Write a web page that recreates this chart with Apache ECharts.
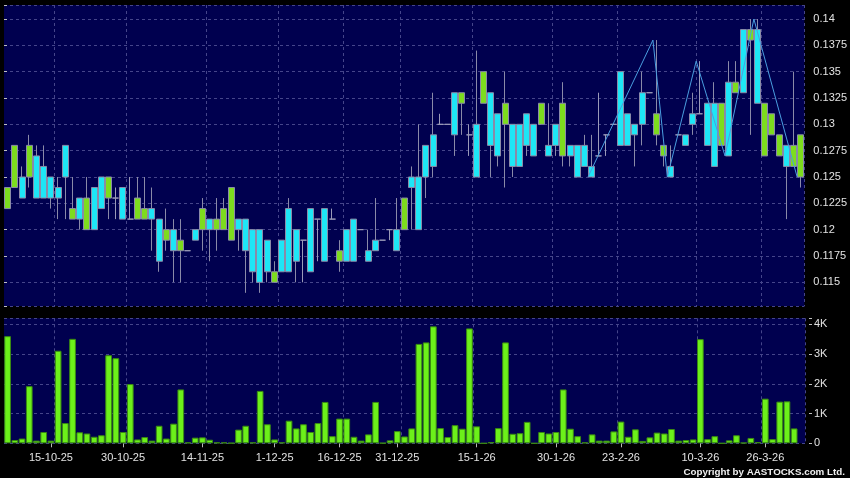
<!DOCTYPE html>
<html>
<head>
<meta charset="utf-8">
<script src="https://cdn.jsdelivr.net/npm/echarts@6/dist/echarts.min.js"></script>
<style>
html,body{margin:0;padding:0;background:#000;}
#chart{width:850px;height:478px;}
</style>
</head>
<body>
<div id="chart"></div>
<script>
// ---- data ----
const openP  = [0.124,0.128,0.123,0.128,0.123,0.123,0.123,0.123,0.125,0.122,0.121,0.123,0.120,0.122,0.125,0.123,0.121,0.121,0.123,0.122,
                0.121,0.117,0.120,0.118,0.119,0.118,0.119,0.122,0.120,0.121,0.122,0.124,0.120,0.118,0.116,0.115,0.116,0.116,0.116,0.116,
                0.117,0.119,0.116,0.121,0.117,0.121,0.118,0.117,0.117,0.120,0.117,0.118,0.119,0.120,0.118,0.123,0.124,0.120,0.125,0.126,
                0.130,0.130,0.129,0.133,0.129,0.125,0.135,0.128,0.127,0.132,0.126,0.126,0.128,0.127,0.132,0.127,0.128,0.132,0.127,0.125,
                0.126,0.125,0.127,0.129,0.130,0.128,0.128,0.129,0.130,0.133,0.131,0.128,0.125,0.129,0.128,0.130,0.131,0.128,0.126,0.132,
                0.127,0.134,0.133,0.139,0.132,0.132,0.131,0.129,0.126,0.128,0.129];
const closeP = [0.122,0.124,0.125,0.125,0.127,0.126,0.125,0.124,0.128,0.121,0.123,0.120,0.124,0.125,0.123,0.123,0.124,0.121,0.121,0.121,
                0.122,0.121,0.119,0.120,0.118,0.118,0.120,0.120,0.121,0.120,0.120,0.119,0.121,0.121,0.120,0.120,0.119,0.115,0.119,0.122,
                0.120,0.119,0.122,0.121,0.122,0.121,0.117,0.120,0.121,0.120,0.118,0.119,0.119,0.120,0.120,0.120,0.125,0.125,0.128,0.129,
                0.130,0.130,0.133,0.132,0.129,0.130,0.132,0.133,0.131,0.130,0.130,0.130,0.131,0.130,0.130,0.128,0.130,0.127,0.128,0.128,
                0.128,0.126,0.127,0.129,0.130,0.135,0.131,0.130,0.133,0.133,0.129,0.127,0.126,0.129,0.129,0.131,0.131,0.132,0.132,0.128,
                0.134,0.133,0.139,0.138,0.139,0.127,0.129,0.127,0.128,0.126,0.125];
const lowP   = [0.122,0.124,0.123,0.124,0.123,0.123,0.122,0.121,0.121,0.121,0.120,0.120,0.120,0.122,0.121,0.121,0.121,0.121,0.121,0.121,
                0.118,0.116,0.118,0.115,0.115,0.118,0.119,0.118,0.117,0.118,0.120,0.119,0.118,0.114,0.115,0.114,0.115,0.115,0.116,0.116,
                0.115,0.115,0.116,0.117,0.117,0.121,0.116,0.117,0.117,0.120,0.117,0.118,0.119,0.119,0.118,0.120,0.120,0.120,0.123,0.125,
                0.130,0.130,0.127,0.129,0.127,0.125,0.132,0.125,0.126,0.124,0.125,0.126,0.127,0.127,0.130,0.127,0.127,0.126,0.126,0.125,
                0.126,0.125,0.127,0.127,0.130,0.128,0.128,0.126,0.128,0.133,0.128,0.126,0.125,0.129,0.128,0.129,0.131,0.128,0.126,0.128,
                0.127,0.133,0.133,0.129,0.132,0.127,0.129,0.127,0.121,0.126,0.124];
const highP  = [0.124,0.128,0.126,0.129,0.128,0.128,0.125,0.125,0.128,0.125,0.123,0.125,0.124,0.125,0.125,0.124,0.124,0.125,0.125,0.125,
                0.124,0.121,0.122,0.121,0.121,0.118,0.120,0.123,0.121,0.123,0.123,0.124,0.121,0.121,0.120,0.120,0.119,0.117,0.119,0.123,
                0.120,0.119,0.122,0.121,0.122,0.122,0.119,0.120,0.121,0.120,0.120,0.123,0.119,0.120,0.123,0.123,0.126,0.130,0.128,0.133,
                0.131,0.130,0.133,0.133,0.130,0.137,0.135,0.133,0.131,0.135,0.130,0.130,0.131,0.130,0.132,0.132,0.130,0.134,0.128,0.128,
                0.129,0.129,0.133,0.129,0.130,0.135,0.131,0.130,0.135,0.133,0.138,0.128,0.128,0.129,0.129,0.133,0.136,0.132,0.134,0.132,
                0.136,0.136,0.139,0.140,0.140,0.132,0.131,0.129,0.128,0.135,0.129];
// volume in thousands
const volumeK = [3.6,0.11,0.16,1.92,0.09,0.38,0.09,3.11,0.68,3.51,0.37,0.33,0.22,0.27,2.96,2.86,0.38,1.99,0.13,0.21,
                 0.09,0.59,0.16,0.66,1.81,0.03,0.19,0.2,0.12,0.03,0.03,0.01,0.46,0.59,0.03,1.76,0.64,0.13,0.03,0.76,
                 0.5,0.64,0.38,0.68,1.39,0.24,0.83,0.83,0.22,0.09,0.3,1.39,0.01,0.1,0.41,0.23,0.5,3.34,3.39,3.93,
                 0.51,0.21,0.61,0.49,3.86,0.57,0,0.04,0.51,3.39,0.32,0.34,0.72,0,0.38,0.33,0.38,1.81,0.49,0.24,
                 0.03,0.3,0.09,0.09,0.4,0.73,0.22,0.47,0.08,0.2,0.36,0.33,0.48,0.09,0.11,0.13,3.5,0.14,0.24,0,
                 0.1,0.27,0.02,0.18,0.04,1.5,0.14,1.4,1.41,0.5,null];
// overlay line (position in trading-day slots, price)
const lineSlot  = [81, 90, 92, 96, 100, 104, 110];
const linePrice = [0.125, 0.138, 0.125, 0.136, 0.127, 0.140, 0.125];
// date tick labels and their bar index
const tickLabels = ['15-10-25','30-10-25','14-11-25','1-12-25','16-12-25','31-12-25','15-1-26','30-1-26','23-2-26','10-3-26','26-3-26'];
const tickIndex  = [6, 16, 27, 37, 46, 54, 65, 76, 85, 96, 105];
const gridLineIndex = [7, 17, 28, 38, 47, 55, 65, 76, 85, 96, 105];

// ---- build ----
const categories = openP.map((_, i) => String(i));
const candleData = openP.map((o, i) => [o, closeP[i], lowP[i], highP[i]]);
const lineData = lineSlot.map((s, i) => [s, linePrice[i]]);

const GRID_COLOR = '#45458a';
const TEXT_COLOR = '#e2e2e2';
const FONT = 'Liberation Sans';

const priceFmt = v => {
  const k = Math.round(v / 0.0025);
  if (Math.abs(v - k * 0.0025) > 1e-7) return '';
  return String(+v.toFixed(4));
};
const volFmt = v => {
  if (Math.abs(v - Math.round(v)) > 1e-6) return '';
  return v === 0 ? '0' : Math.round(v) + 'K';
};

const chart = echarts.init(document.getElementById('chart'), null, {renderer: 'canvas'});
chart.setOption({
  backgroundColor: '#000000',
  animation: false,
  grid: [
    {left: 4, right: 45, top: 5, height: 301, show: true, backgroundColor: '#00004f', borderWidth: 0},
    {left: 4, right: 45, top: 318.3, height: 125, show: true, backgroundColor: '#00004f', borderWidth: 0}
  ],
  xAxis: [
    {
      type: 'category', gridIndex: 0, data: categories, boundaryGap: true,
      axisLine: {show: false}, axisTick: {show: false}, axisLabel: {show: false},
      splitLine: {show: true, interval: i => gridLineIndex.includes(i), lineStyle: {color: GRID_COLOR, type: [3, 3], width: 1}}
    },
    {
      type: 'category', gridIndex: 1, data: categories, boundaryGap: true,
      axisLine: {show: false},
      axisTick: {show: true, alignWithLabel: true, length: 4, interval: i => tickIndex.includes(i), lineStyle: {color: '#b8b8b8'}},
      axisLabel: {
        show: true, interval: i => tickIndex.includes(i), margin: 9,
        color: TEXT_COLOR, fontSize: 11, fontFamily: FONT,
        formatter: (v, i) => tickLabels[tickIndex.indexOf(i)] || ''
      },
      splitLine: {show: true, interval: i => gridLineIndex.includes(i), lineStyle: {color: GRID_COLOR, type: [3, 3], width: 1}}
    },
    {type: 'value', gridIndex: 0, min: 0, max: 111, show: false}
  ],
  yAxis: [
    {
      type: 'value', gridIndex: 0, position: 'right', offset: 4,
      min: 0.11275, max: 0.14133, minInterval: 0.0025, maxInterval: 0.0025,
      axisLine: {show: false},
      axisTick: {show: true, length: 3, lineStyle: {color: '#c0c0c0'}},
      axisLabel: {color: TEXT_COLOR, fontSize: 11, fontFamily: FONT, margin: 5, formatter: priceFmt},
      splitLine: {show: true, lineStyle: {color: GRID_COLOR, type: [3, 3], width: 1}}
    },
    {
      type: 'value', gridIndex: 1, position: 'right', offset: 4,
      min: 0, max: 4.2, interval: 1,
      axisLine: {show: false},
      axisTick: {show: true, length: 3, lineStyle: {color: '#c0c0c0'}},
      axisLabel: {color: TEXT_COLOR, fontSize: 11, fontFamily: FONT, margin: 5, formatter: volFmt},
      splitLine: {show: true, lineStyle: {color: GRID_COLOR, type: [3, 3], width: 1}}
    }
  ],
  series: [
    {
      type: 'candlestick', xAxisIndex: 0, yAxisIndex: 0, data: candleData,
      barWidth: 6.5,
      itemStyle: {
        color: '#1ee6f6', color0: '#7ddc1e',
        borderColor: '#8a8aa8', borderColor0: '#8a8aa8', borderColorDoji: '#9a9ab8',
        borderWidth: 1
      }
    },
    {
      type: 'line', xAxisIndex: 2, yAxisIndex: 0, data: lineData,
      symbol: 'none', z: 5,
      lineStyle: {color: '#4a9ee0', width: 1}
    },
    {
      type: 'bar', xAxisIndex: 1, yAxisIndex: 1, data: volumeK,
      barWidth: 6.7,
      itemStyle: {color: '#6cf01a', borderColor: '#3a8a12', borderWidth: 1}
    }
  ],
  graphic: [
    {
      type: 'text', right: 5, top: 467,
      style: {text: 'Copyright by AASTOCKS.com Ltd.', fill: '#f0f0f0', font: 'bold 9.8px "Liberation Sans"'}
    }
  ]
});
</script>
</body>
</html>
